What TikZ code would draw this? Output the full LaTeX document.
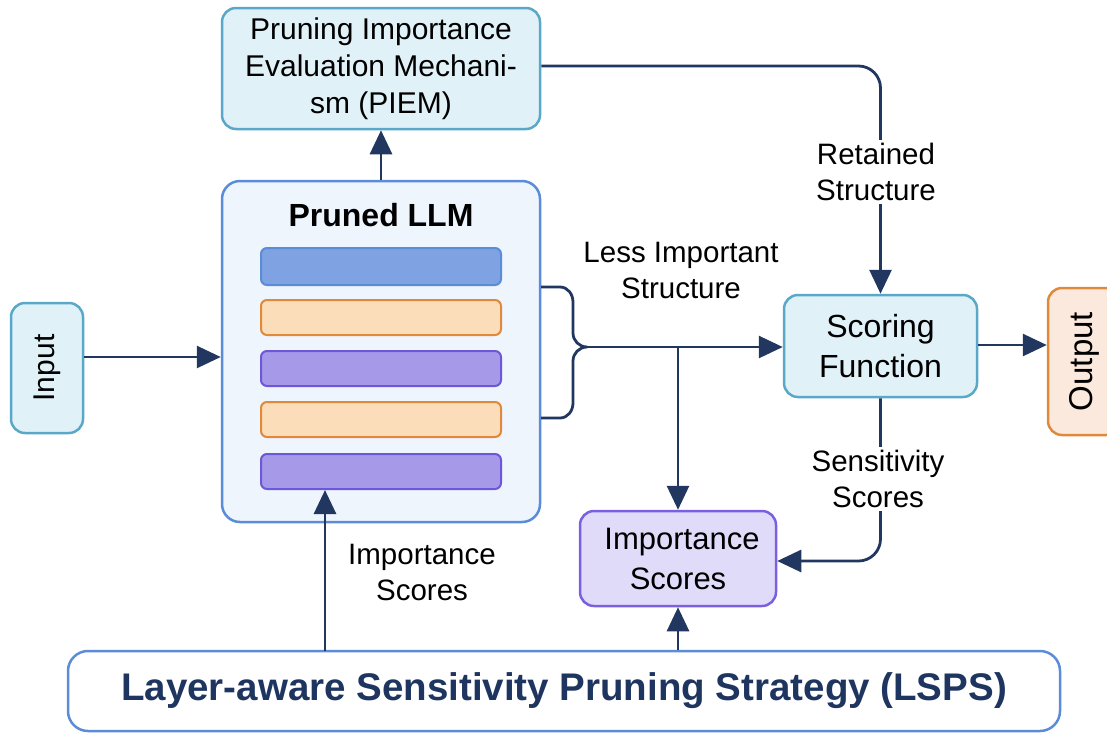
\documentclass[tikz,border=0pt]{standalone}
\usepackage{fontspec}
\setmainfont{Liberation Sans}
\usetikzlibrary{arrows.meta}
\definecolor{navy}{HTML}{22375F}
\definecolor{tealfill}{HTML}{E1F1F8}
\definecolor{tealline}{HTML}{5AA8C8}
\definecolor{llmfill}{HTML}{EEF5FD}
\definecolor{blueline}{HTML}{5B8CD8}
\definecolor{bluebar}{HTML}{7FA2E2}
\definecolor{orfill}{HTML}{FCDDB9}
\definecolor{orline}{HTML}{E0893A}
\definecolor{purbar}{HTML}{A69AE8}
\definecolor{purline}{HTML}{6D57D9}
\definecolor{impfill}{HTML}{E1DBFA}
\definecolor{impline}{HTML}{7A60E0}
\definecolor{outfill}{HTML}{FCE9DD}
\definecolor{lspstext}{HTML}{1E3560}
\begin{document}
\begin{tikzpicture}[x=1pt,y=-1pt,
  box/.style={draw, line width=2.5pt, rounded corners=14pt, align=center, inner sep=0pt},
  tealbox/.style={box, draw=tealline, fill=tealfill},
  bar/.style={draw, line width=2pt, rounded corners=6pt, minimum width=240pt, minimum height=35pt, inner sep=0pt},
  conn/.style={draw=navy, line width=2.8pt},
  arr/.style={conn, -{Triangle[length=24pt,width=22pt]}},
  lbl/.style={align=center, font=\fontsize{29.5}{36}\selectfont, fill=white, inner sep=3pt}]
\useasboundingbox (0,0) rectangle (1107,734);

% boxes
\node[tealbox, minimum width=318pt, minimum height=121pt, font=\fontsize{30}{37}\selectfont] (piem) at (381,68.5)
  {Pruning Importance\\Evaluation Mechani-\\sm (PIEM)};
\node[box, draw=blueline, fill=llmfill, minimum width=318pt, minimum height=341pt, rounded corners=18pt] (llm) at (381,351.5) {};
\node[font=\fontsize{32}{36}\selectfont\bfseries] (llmt) at (381,215) {Pruned LLM};
\node[bar, draw=blueline, fill=bluebar, minimum height=37pt] (bar1) at (381,266.5) {};
\node[bar, draw=orline, fill=orfill] (bar2) at (381,317.5) {};
\node[bar, draw=purline, fill=purbar] (bar3) at (381,368.5) {};
\node[bar, draw=orline, fill=orfill] (bar4) at (381,419.5) {};
\node[bar, draw=purline, fill=purbar] (bar5) at (381,471.5) {};

\node[tealbox, minimum width=72pt, minimum height=130pt, font=\fontsize{30}{36}\selectfont] (inp) at (47,368) {\rotatebox{90}{Input}};
\node[tealbox, minimum width=193pt, minimum height=102pt, font=\fontsize{32}{40}\selectfont] (sf) at (880.5,346) {Scoring\\Function};
\node[box, draw=orline, fill=outfill, minimum width=72pt, minimum height=147pt, font=\fontsize{33}{36}\selectfont] (out) at (1084,361.5) {\rotatebox{90}{Output}};
\node[box, draw=impline, fill=impfill, minimum width=196pt, minimum height=95pt, font=\fontsize{31}{40}\selectfont] (imp) at (678,558.5) {\hspace*{8pt}Importance\\Scores};
\node[box, draw=blueline, fill=white, minimum width=992pt, minimum height=80pt, rounded corners=20pt, text=lspstext, font=\fontsize{38.5}{40}\selectfont\bfseries] (lsps) at (564,691)
  {Layer-aware Sensitivity Pruning Strategy (LSPS)};

% connectors
\coordinate (inA) at (84,357);
\draw[arr] (inA) -- (inA -| llm.west);
\draw[arr] (llm.north) -- (piem.south);
\draw[arr, rounded corners=22pt] ([yshift=2.5pt]piem.east) -| (sf.north);
\node[lbl] (rs) at (876,172) {Retained\\Structure};

\coordinate (btop) at (541,287);
\coordinate (bbot) at (541,418);
\coordinate (btip) at (587,347);
\coordinate (jn) at (678,347);
\draw[conn, line join=round] (btop) -- (560,287) to[out=0,in=90] (573,302) -- (573,333) to[out=-90,in=180] (btip)
  to[out=180,in=90] (573,361) -- (573,403) to[out=-90,in=0] (560,418) -- (bbot);
\draw[arr] (btip) -- (sf.west |- btip);
\node[lbl, fill=none] (lis) at (681,270) {Less Important\\Structure};
\draw[arr] (jn) -- (imp.north);

\coordinate (soA) at (978,345);
\draw[arr] (soA) -- (soA -| out.west);

\draw[arr, rounded corners=22pt] (sf.south) |- ([yshift=-2.5pt]imp.east);
\node[lbl] (ss) at (878,479) {Sensitivity\\Scores};

\draw[arr] (imp.south |- lsps.north) -- (imp.south);
\coordinate (lsA) at (325,651);
\draw[arr] (lsA) -- (lsA |- bar5.south);
\node[lbl, fill=none] (isl) at (422,572) {Importance\\Scores};
\end{tikzpicture}
\end{document}
